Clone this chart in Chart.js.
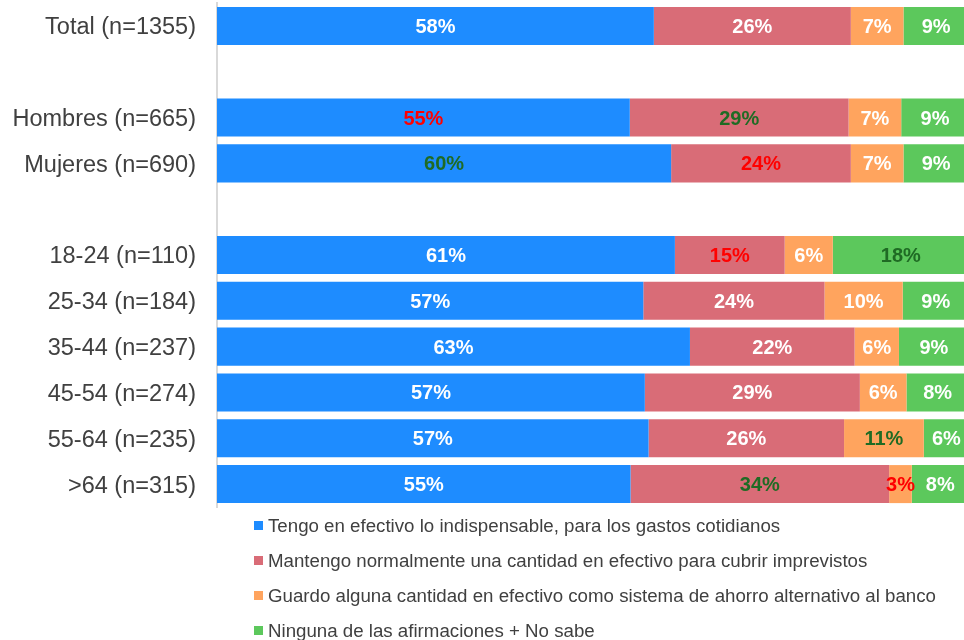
<!DOCTYPE html>
<html>
<head>
<meta charset="utf-8">
<script src="https://cdn.jsdelivr.net/npm/chart.js@4.4.0/dist/chart.umd.min.js"></script>
<style>
  html, body { margin: 0; padding: 0; background: #fff; }
  #wrap { position: relative; width: 964px; height: 640px; }
  #myChart { display: block; }
  #legend {
    position: absolute; left: 254px; top: 508px;
    font: 18.7px "Liberation Sans", Arial, sans-serif; color: #404040;
  }
  .item { display: flex; align-items: center; height: 35px; white-space: nowrap; }
  .box { width: 9px; height: 9px; margin-right: 5px; }
</style>
</head>
<body>
<div id="wrap">
  <canvas id="myChart" width="964" height="640"></canvas>
  <div id="legend"></div>
</div>
<script>
// rows, blank strings are the gaps between groups
const categories = [
  "Total (n=1355)", "",
  "Hombres (n=665)", "Mujeres (n=690)", "",
  "18-24 (n=110)", "25-34 (n=184)", "35-44 (n=237)",
  "45-54 (n=274)", "55-64 (n=235)", ">64 (n=315)"
];

const seriesNames = [
  "Tengo en efectivo lo indispensable, para los gastos cotidianos",
  "Mantengo normalmente una cantidad en efectivo para cubrir imprevistos",
  "Guardo alguna cantidad en efectivo como sistema de ahorro alternativo al banco",
  "Ninguna de las afirmaciones + No sabe"
];

const tengo    = [58.1, null, 54.9, 60.4, null, 60.9, 56.7, 62.9, 56.9, 57.4, 55.0];
const mantengo = [26.2, null, 29.1, 23.9, null, 14.6, 24.1, 21.9, 28.6, 26.0, 34.4];
const guardo   = [7.0,  null, 7.0,  7.0,  null, 6.4,  10.4, 5.9,  6.2,  10.6, 3.0];
const ninguna  = [8.7,  null, 9.0,  8.7,  null, 18.1, 8.8,  9.3,  8.3,  6.0,  7.6];

const colors = ["#1e8cff", "#d96c77", "#ffa45e", "#5cc85c"];

// value label colours (white, red or dark green highlight)
const W = "#ffffff", R = "#ff0000", G = "#1f6b24";
const labelColors = [
  [W, null, R, G, null, W, W, W, W, W, W],
  [W, null, G, R, null, R, W, W, W, W, G],
  [W, null, W, W, null, W, W, W, W, G, R],
  [W, null, W, W, null, G, W, W, W, W, W]
];

const barLabels = {
  id: "barLabels",
  afterDatasetsDraw(chart) {
    const ctx = chart.ctx;
    ctx.save();
    ctx.font = 'bold 20px "Liberation Sans", Arial, sans-serif';
    ctx.textAlign = "center";
    ctx.textBaseline = "middle";
    chart.data.datasets.forEach((ds, di) => {
      chart.getDatasetMeta(di).data.forEach((bar, i) => {
        const v = ds.data[i];
        if (v == null) return;
        ctx.fillStyle = labelColors[di][i];
        ctx.fillText(Math.round(v) + "%", (bar.x + bar.base) / 2, bar.y + 1.5);
      });
    });
    ctx.restore();
  }
};

const allSeries = [tengo, mantengo, guardo, ninguna];

const ctx = document.getElementById("myChart").getContext("2d");
const myChart = new Chart(ctx, {
  type: "bar",
  data: {
    labels: categories,
    datasets: allSeries.map((d, i) => ({
      label: seriesNames[i],
      data: d,
      backgroundColor: colors[i],
      borderWidth: 0,
      barPercentage: 0.83,
      categoryPercentage: 1
    }))
  },
  options: {
    indexAxis: "y",
    responsive: false,
    animation: false,
    events: [],
    layout: { padding: { top: 3, bottom: 133, left: 0, right: 0 } },
    plugins: {
      legend: { display: false },
      tooltip: { enabled: false }
    },
    scales: {
      x: {
        stacked: true,
        min: 0,
        max: 99.35, // right end of the bars is cut off in the picture
        display: false
      },
      y: {
        stacked: true,
        grid: { display: false, drawTicks: false },
        border: { display: true, color: "#d9d9d9", width: 2 },
        ticks: {
          autoSkip: false,
          padding: 21,
          labelOffset: 2,
          color: "#404040",
          font: { family: '"Liberation Sans", Arial, sans-serif', size: 23.5 }
        },
        afterFit(scale) {
          scale.width = 217;
          // no extra room above/below for the tick labels
          scale.paddingTop = 0;
          scale.paddingBottom = 0;
        }
      }
    }
  },
  plugins: [barLabels]
});

// legend, one item per line
const legendEl = document.getElementById("legend");
myChart.data.datasets.forEach(ds => {
  const row = document.createElement("div");
  row.className = "item";
  const box = document.createElement("span");
  box.className = "box";
  box.style.background = ds.backgroundColor;
  row.appendChild(box);
  row.appendChild(document.createTextNode(ds.label));
  legendEl.appendChild(row);
});
</script>
</body>
</html>
